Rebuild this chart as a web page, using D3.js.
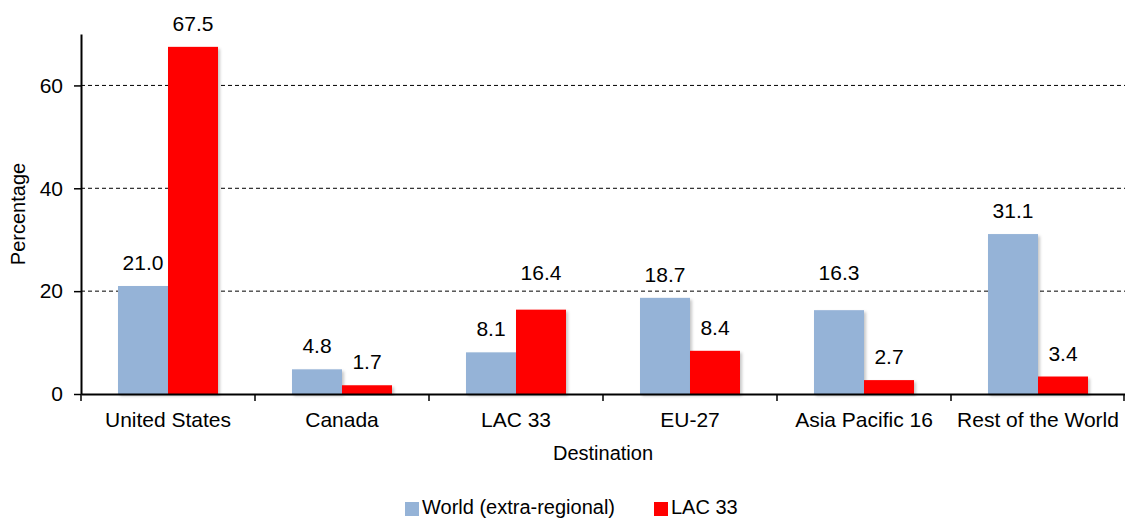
<!DOCTYPE html>
<html>
<head>
<meta charset="utf-8">
<script src="https://cdn.jsdelivr.net/npm/d3@7"></script>
<style>
  body { margin: 0; background: #fff; }
  text { font-family: "Liberation Sans", Arial, sans-serif; fill: #000; }
</style>
</head>
<body>
<div id="chart"></div>
<script>
// data
const categories = ["United States", "Canada", "LAC 33", "EU-27", "Asia Pacific 16", "Rest of the World"];
const seriesNames = ["World (extra-regional)", "LAC 33"];
const worldValues = [21.0, 4.8, 8.1, 18.7, 16.3, 31.1];
const lacValues = [67.5, 1.7, 16.4, 8.4, 2.7, 3.4];
const yTicks = [0, 20, 40, 60];
const colors = ["#95b3d7", "#ff0000"];

const width = 1125;
const height = 519;
const margin = { top: 34, right: 0, bottom: 125, left: 81 };
const fontSize = "21px";

const svg = d3.select("#chart")
    .append("svg")
    .attr("width", width)
    .attr("height", height);

const x0 = d3.scaleBand()
    .domain(categories)
    .range([margin.left, width - margin.right])
    .paddingInner(0)
    .paddingOuter(0);

// two bars of ~50px inside each 174px group
const x1 = d3.scaleBand()
    .domain([0, 1])
    .range([0, x0.bandwidth()])
    .paddingInner(0)
    .paddingOuter(0.74);

const y = d3.scaleLinear()
    .domain([0, 70])
    .range([height - margin.bottom, margin.top]);

// dashed gridlines
const gridValues = yTicks.filter(d => d > 0);
svg.append("g")
    .selectAll("line")
    .data(gridValues)
    .enter()
    .append("line")
    .attr("x1", margin.left)
    .attr("x2", width - margin.right)
    .attr("y1", d => y(d))
    .attr("y2", d => y(d))
    .attr("stroke", "#000")
    .attr("stroke-width", 1)
    .attr("stroke-dasharray", "4,3");

const rows = categories.map((c, i) => ({ cat: c, vals: [worldValues[i], lacValues[i]] }));

const defs = svg.append("defs");
const shadow = defs.append("filter").attr("id", "shadow")
    .attr("x", "-10%").attr("y", "-10%").attr("width", "130%").attr("height", "130%");
shadow.append("feDropShadow")
    .attr("dx", 2).attr("dy", 2).attr("stdDeviation", 1.5)
    .attr("flood-color", "#000").attr("flood-opacity", 0.22);

const groups = svg.append("g")
    .selectAll("g")
    .data(rows)
    .enter()
    .append("g")
    .attr("transform", d => `translate(${x0(d.cat)},0)`);

groups.selectAll("rect")
    .data(d => d.vals.map((v, k) => ({ v, k })))
    .enter()
    .append("rect")
    .attr("x", d => x1(d.k))
    .attr("width", x1.bandwidth())
    .attr("y", d => y(d.v))
    .attr("height", d => y(0) - y(d.v))
    .attr("fill", d => colors[d.k])
    .attr("filter", "url(#shadow)");

// label baseline: 16px above the bar, lifted over a gridline it would sit on
function labelY(v) {
    let base = y(v) - 16;
    gridValues.forEach(g => {
        const gy = y(g);
        if (base - 16 < gy && base + 4 > gy) base = gy - 11;
    });
    return base;
}

groups.selectAll("text.val")
    .data(d => d.vals.map((v, k) => ({ v, k })))
    .enter()
    .append("text")
    .attr("class", "val")
    .attr("x", d => x1(d.k) + x1.bandwidth() / 2)
    .attr("y", d => labelY(d.v))
    .attr("text-anchor", "middle")
    .style("font-size", fontSize)
    .text(d => d3.format(".1f")(d.v));

// y axis
const yAxis = svg.append("g")
    .attr("transform", `translate(${margin.left},0)`)
    .call(d3.axisLeft(y).tickValues(yTicks).tickSize(7).tickSizeOuter(0));
yAxis.select(".domain").attr("stroke", "#000").attr("stroke-width", 2);
yAxis.selectAll(".tick line").attr("stroke", "#000").attr("stroke-width", 1.5);
yAxis.selectAll(".tick text")
    .attr("x", -18)
    .style("font-size", fontSize)
    .style("font-family", "Liberation Sans, Arial, sans-serif")
    .attr("fill", "#000");

// x axis
const xAxis = svg.append("g")
    .attr("transform", `translate(0,${y(0)})`)
    .call(d3.axisBottom(x0).tickSize(0).tickSizeOuter(0));
xAxis.select(".domain").attr("stroke", "#000").attr("stroke-width", 2);
xAxis.selectAll(".tick text")
    .attr("dy", "0")
    .attr("y", 33)
    .style("font-size", fontSize)
    .style("font-family", "Liberation Sans, Arial, sans-serif")
    .attr("fill", "#000");

// category boundary ticks
svg.append("g")
    .selectAll("line")
    .data(categories.map(c => x0(c)).concat([x0(categories[categories.length - 1]) + x0.bandwidth() - 1]))
    .enter()
    .append("line")
    .attr("x1", d => d).attr("x2", d => d)
    .attr("y1", y(0)).attr("y2", y(0) + 7)
    .attr("stroke", "#000")
    .attr("stroke-width", 1.5);

// axis titles
svg.append("text")
    .attr("x", (margin.left + width - margin.right) / 2)
    .attr("y", 460)
    .attr("text-anchor", "middle")
    .style("font-size", "20px")
    .text("Destination");

svg.append("text")
    .attr("transform", `translate(25,${(y(0) + y(70)) / 2}) rotate(-90)`)
    .attr("text-anchor", "middle")
    .style("font-size", "20px")
    .text("Percentage");

// legend
const legendItems = [
    { name: seriesNames[0], color: colors[0], x: 405 },
    { name: seriesNames[1], color: colors[1], x: 654 }
];
const legend = svg.append("g");
legendItems.forEach(item => {
    legend.append("rect")
        .attr("x", item.x).attr("y", 502)
        .attr("width", 14).attr("height", 14)
        .attr("fill", item.color);
    legend.append("text")
        .attr("x", item.x + 17)
        .attr("y", 514)
        .style("font-size", "20px")
        .text(item.name);
});
</script>
</body>
</html>
